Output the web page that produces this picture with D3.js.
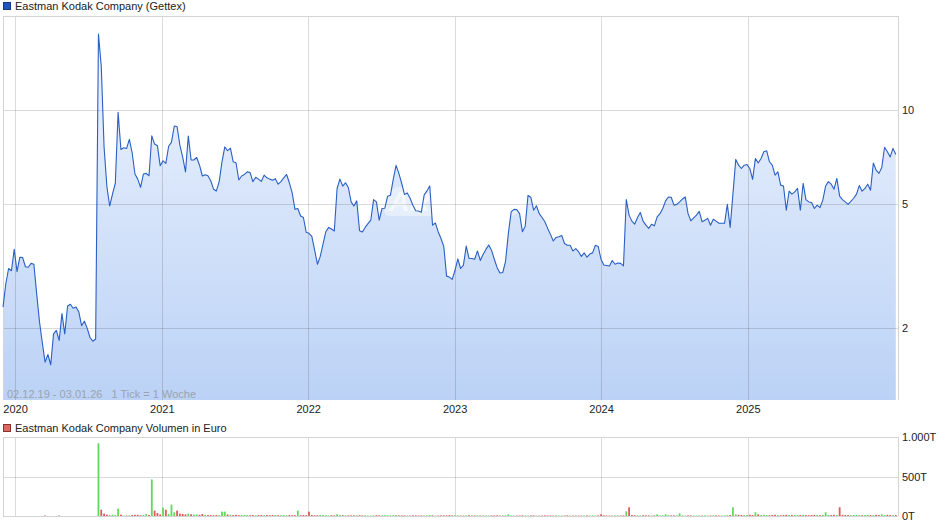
<!DOCTYPE html>
<html>
<head>
<meta charset="utf-8">
<script src="https://cdn.jsdelivr.net/npm/d3@7"></script>
<style>
    body { margin: 0; background: #fff; }
    svg { display: block; font-family: "Liberation Sans", Arial, sans-serif; }
</style>
</head>
<body>
<div id="chart"></div>
<script>
// weekly closes, Gettex, EUR
const firstWeek = "2019-12-02",
    lastWeek = "2026-01-03";

const prices = [
    2.34, 2.78, 3.11, 3.06, 3.58, 3.04, 3.38, 3.37, 3.15, 3.14, 3.23, 3.21, 2.58, 2.10, 1.80, 1.56, 1.65, 1.53, 1.92, 1.97,
    1.83, 2.23, 1.92, 2.36, 2.39, 2.32, 2.34, 2.26, 2.04, 2.11, 2.00, 1.87, 1.82, 1.85, 17.5, 13.8, 7.62, 5.70, 4.93, 5.38,
    5.83, 9.83, 7.48, 7.57, 7.53, 8.06, 7.30, 6.24, 6.01, 5.66, 6.24, 6.27, 6.16, 8.27, 7.78, 7.69, 6.63, 6.88, 6.75, 7.66,
    7.88, 8.89, 8.84, 7.72, 7.07, 6.34, 8.25, 6.92, 6.92, 7.05, 6.66, 6.15, 6.21, 6.16, 5.94, 5.58, 5.51, 5.90, 6.83, 7.62,
    7.41, 7.55, 6.83, 6.78, 5.97, 6.15, 6.22, 6.34, 6.31, 5.90, 6.09, 6.01, 5.91, 6.19, 6.07, 6.01, 5.96, 6.03, 5.79, 5.90,
    6.07, 6.22, 5.85, 5.43, 4.81, 4.84, 4.58, 4.53, 4.06, 4.03, 3.94, 3.56, 3.21, 3.40, 3.73, 4.08, 4.21, 4.16, 4.10, 5.61,
    6.01, 5.71, 5.85, 5.65, 5.08, 4.93, 5.12, 4.11, 4.07, 4.21, 4.33, 4.44, 5.17, 5.08, 4.44, 4.84, 4.85, 5.30, 5.34, 6.00,
    6.65, 6.27, 5.83, 5.37, 5.43, 5.22, 4.96, 4.76, 4.75, 4.71, 5.34, 5.51, 5.71, 4.28, 4.35, 4.08, 3.88, 3.66, 2.94, 2.92,
    2.87, 3.07, 3.34, 3.11, 3.19, 3.67, 3.35, 3.35, 3.33, 3.54, 3.30, 3.45, 3.58, 3.70, 3.56, 3.33, 3.13, 3.01, 3.02, 3.28,
    4.03, 4.72, 4.81, 4.80, 4.66, 4.08, 4.25, 5.33, 5.26, 4.78, 4.94, 4.66, 4.53, 4.39, 4.18, 4.00, 3.81, 3.91, 3.93, 3.97,
    3.74, 3.69, 3.69, 3.54, 3.60, 3.52, 3.40, 3.49, 3.38, 3.46, 3.49, 3.69, 3.66, 3.33, 3.19, 3.18, 3.17, 3.30, 3.21, 3.24,
    3.23, 3.17, 5.17, 4.61, 4.41, 4.31, 4.53, 4.70, 4.41, 4.28, 4.18, 4.31, 4.26, 4.55, 4.66, 4.84, 5.12, 5.27, 5.26, 4.96,
    4.99, 5.08, 5.19, 5.27, 4.66, 4.42, 4.52, 4.61, 4.74, 4.39, 4.44, 4.50, 4.28, 4.47, 4.41, 4.34, 4.34, 4.34, 4.99, 4.21,
    5.40, 6.95, 6.66, 6.50, 6.66, 6.69, 6.50, 6.00, 7.00, 6.77, 7.00, 7.35, 7.41, 6.83, 6.66, 6.19, 6.34, 5.75, 5.71, 4.78,
    5.50, 5.38, 5.47, 5.61, 4.78, 5.83, 5.17, 5.08, 5.06, 4.84, 4.96, 4.87, 5.15, 5.71, 5.90, 5.79, 5.58, 6.04, 5.30, 5.17,
    5.08, 4.99, 5.10, 5.22, 5.38, 5.73, 5.50, 5.61, 5.79, 5.54, 6.77, 6.42, 6.27, 6.55, 7.60, 7.35, 7.08, 7.54, 7.21
];

// weekly volume in thousand euro
const volumes = [
    0, 0, 0, 0, 0, 0, 0, 0, 0, 0, 0, 0, 0, 0, 0, 6, 0, 0, 0, 0,
    6, 0, 0, 0, 0, 0, 0, 0, 0, 0, 0, 0, 0, 0, 920, 80, 30, 17, 8, 17,
    12, 93, 17, 6, 6, 8, 12, 15, 15, 10, 12, 25, 12, 462, 68, 38, 20, 106, 80, 25,
    144, 47, 68, 30, 25, 20, 30, 22, 18, 20, 15, 25, 15, 12, 12, 10, 12, 10, 55, 55,
    20, 15, 12, 15, 10, 12, 15, 12, 10, 12, 10, 12, 12, 10, 12, 10, 12, 12, 10, 10,
    12, 10, 12, 10, 10, 68, 10, 12, 10, 55, 12, 10, 10, 12, 12, 10, 8, 10, 8, 21,
    12, 10, 8, 8, 8, 8, 8, 10, 8, 8, 6, 6, 8, 10, 8, 8, 10, 8, 8, 10,
    12, 8, 8, 8, 6, 6, 8, 8, 6, 8, 6, 8, 12, 8, 6, 6, 8, 8, 8, 10,
    8, 8, 8, 6, 8, 8, 10, 8, 8, 8, 6, 8, 8, 6, 8, 8, 8, 6, 8, 8,
    21, 8, 6, 6, 6, 8, 6, 6, 8, 8, 6, 6, 6, 8, 6, 6, 6, 8, 6, 6,
    6, 8, 6, 6, 8, 6, 6, 6, 8, 6, 8, 6, 8, 21, 8, 6, 6, 8, 6, 8,
    6, 8, 59, 110, 12, 10, 8, 8, 10, 8, 8, 6, 8, 21, 8, 8, 21, 10, 8, 8,
    8, 34, 8, 6, 8, 8, 6, 6, 8, 6, 8, 6, 6, 8, 8, 6, 6, 8, 10, 12,
    110, 21, 15, 12, 10, 12, 15, 12, 47, 21, 12, 15, 12, 10, 12, 15, 12, 10, 12, 15,
    12, 12, 15, 12, 12, 15, 12, 10, 12, 15, 12, 10, 15, 47, 12, 12, 15, 12, 110, 15,
    12, 12, 10, 12, 15, 12, 10, 12, 15, 12, 12, 15, 12, 21, 12, 15, 12, 10, 12
];

const yearTicks = [2020, 2021, 2022, 2023, 2024, 2025];
const priceTicks = [2, 5, 10];
const volTicks = [0, 500, 1000];
const volTickLabels = ["0T", "500T", "1.000T"];

const width = 940,
    height = 526,
    left = 3,
    right = 898,
    priceTop = 16,
    priceBottom = 400,
    volTop = 437,
    volBottom = 516;

const parse = d3.timeParse("%Y-%m-%d");
const start = parse(firstWeek),
    end = parse(lastWeek);
// 1 Tick = 1 Woche
const weeks = prices.map((p, i) => d3.timeDay.offset(start, 7 * i));

const xScale = d3.scaleTime()
    .domain([start, end])
    .range([left, 895]);

const yScale = d3.scaleLog()
    .domain([1.18, 20])
    .range([priceBottom, priceTop]);

const vScale = d3.scaleLinear()
    .domain([0, 1000])
    .range([volBottom, volTop]);

const svg = d3.select("#chart")
    .append("svg")
    .attr("width", width)
    .attr("height", height);

const defs = svg.append("defs");
const grad = defs.append("linearGradient")
    .attr("id", "fillGrad")
    .attr("gradientUnits", "userSpaceOnUse")
    .attr("x1", 0).attr("y1", priceTop)
    .attr("x2", 0).attr("y2", priceBottom);
grad.append("stop").attr("offset", "0%").attr("stop-color", "#f1f6fe");
grad.append("stop").attr("offset", "100%").attr("stop-color", "#bbd2f6");

// ---- price panel ----
const area = d3.area()
    .x((d, i) => xScale(weeks[i]))
    .y0(priceBottom)
    .y1(d => yScale(d));

const line = d3.line()
    .x((d, i) => xScale(weeks[i]))
    .y(d => yScale(d));

svg.append("path")
    .datum(prices)
    .attr("d", area)
    .attr("fill", "url(#fillGrad)");

// watermark
const wm = svg.append("g")
    .attr("transform", "translate(455, 201)");
wm.append("rect")
    .attr("x", -68).attr("y", -14)
    .attr("width", 136).attr("height", 29)
    .attr("rx", 8)
    .attr("transform", "skewX(-18)")
    .attr("fill", "#ffffff")
    .attr("opacity", 0.4);
wm.append("text")
    .attr("text-anchor", "middle")
    .attr("y", 10)
    .attr("font-size", 28)
    .attr("font-weight", "bold")
    .attr("font-style", "italic")
    .attr("fill", "#ffffff")
    .attr("opacity", 0.6)
    .text("ARIVA.DE");

// grid
const grid = svg.append("g")
    .attr("stroke", "#000")
    .attr("stroke-opacity", 0.14)
    .attr("shape-rendering", "crispEdges");

grid.selectAll(".hgrid")
    .data(priceTicks)
    .enter()
    .append("line")
    .attr("x1", left).attr("x2", right)
    .attr("y1", d => Math.round(yScale(d)) + 0.5)
    .attr("y2", d => Math.round(yScale(d)) + 0.5);

grid.selectAll(".vgrid")
    .data(yearTicks)
    .enter()
    .append("line")
    .attr("x1", d => Math.round(xScale(new Date(d, 0, 1))) + 0.5)
    .attr("x2", d => Math.round(xScale(new Date(d, 0, 1))) + 0.5)
    .attr("y1", priceTop)
    .attr("y2", priceBottom);

// frame
svg.append("path")
    .attr("d", `M${left + 0.5},${priceBottom} V${priceTop + 0.5} H${right + 0.5} V${priceBottom}`)
    .attr("fill", "none")
    .attr("stroke", "#d4d4d4")
    .attr("shape-rendering", "crispEdges");

svg.append("path")
    .datum(prices)
    .attr("d", line)
    .attr("fill", "none")
    .attr("stroke", "#2a5fc4")
    .attr("stroke-width", 1.1)
    .attr("stroke-linejoin", "round");

svg.append("text")
    .attr("x", 7)
    .attr("y", 398)
    .attr("font-size", 11)
    .attr("fill", "#9aa3ad")
    .style("white-space", "pre")
    .text("02.12.19 - 03.01.26   1 Tick = 1 Woche");

// right axis (price)
const yAxis = d3.axisRight(yScale)
    .tickValues(priceTicks)
    .tickSize(0)
    .tickPadding(0)
    .tickFormat(d3.format("d"));

svg.append("g")
    .attr("transform", "translate(902, 0)")
    .call(yAxis)
    .call(g => g.select(".domain").remove())
    .selectAll("text")
    .attr("font-size", 11)
    .attr("font-family", "Liberation Sans, Arial, sans-serif")
    .attr("fill", "#222");

// x axis years
const xAxis = d3.axisBottom(xScale)
    .tickValues(yearTicks.map(y => new Date(y, 0, 1)))
    .tickSize(0)
    .tickPadding(0)
    .tickFormat(d3.timeFormat("%Y"));

svg.append("g")
    .attr("transform", "translate(0, " + (priceBottom + 5) + ")")
    .call(xAxis)
    .call(g => g.select(".domain").remove())
    .selectAll("text")
    .attr("font-size", 11)
    .attr("font-family", "Liberation Sans, Arial, sans-serif")
    .attr("fill", "#222");

// legends
function legend(y, color, border, label) {
    svg.append("rect")
        .attr("x", 3.5).attr("y", y - 7.5)
        .attr("width", 7).attr("height", 7)
        .attr("fill", color)
        .attr("stroke", border);
    svg.append("text")
        .attr("x", 15)
        .attr("y", y)
        .attr("font-size", 11)
        .attr("fill", "#222")
        .text(label);
}
legend(10, "#1f55c0", "#1a3a80", "Eastman Kodak Company (Gettex)");
legend(432, "#e06666", "#8a3030", "Eastman Kodak Company Volumen in Euro");

// ---- volume panel ----
const vgrid = svg.append("g")
    .attr("stroke", "#000")
    .attr("stroke-opacity", 0.14)
    .attr("shape-rendering", "crispEdges");

vgrid.selectAll(".vh")
    .data([500])
    .enter()
    .append("line")
    .attr("x1", left).attr("x2", right)
    .attr("y1", d => Math.round(vScale(d)) + 0.5)
    .attr("y2", d => Math.round(vScale(d)) + 0.5);

vgrid.selectAll(".vv")
    .data(yearTicks)
    .enter()
    .append("line")
    .attr("x1", d => Math.round(xScale(new Date(d, 0, 1))) + 0.5)
    .attr("x2", d => Math.round(xScale(new Date(d, 0, 1))) + 0.5)
    .attr("y1", volTop)
    .attr("y2", volBottom);

svg.append("path")
    .attr("d", `M${left + 0.5},${volBottom} V${volTop + 0.5} H${right + 0.5} V${volBottom}`)
    .attr("fill", "none")
    .attr("stroke", "#d4d4d4")
    .attr("shape-rendering", "crispEdges");

svg.selectAll(".vbar")
    .data(volumes)
    .enter()
    .append("rect")
    .attr("class", "vbar")
    .attr("x", (d, i) => xScale(weeks[i]) - 0.9)
    .attr("width", 1.8)
    .attr("y", d => vScale(d))
    .attr("height", d => volBottom - vScale(d))
    .attr("fill", (d, i) => (i > 0 && prices[i] < prices[i - 1]) ? "#e05a5a" : "#5fd85f");

svg.append("line")
    .attr("x1", left).attr("x2", right)
    .attr("y1", volBottom + 0.5).attr("y2", volBottom + 0.5)
    .attr("stroke", "#d4d4d4");

const vAxis = d3.axisRight(vScale)
    .tickValues(volTicks)
    .tickSize(0)
    .tickPadding(0)
    .tickFormat((d, i) => volTickLabels[i]);

svg.append("g")
    .attr("transform", "translate(902, 0)")
    .call(vAxis)
    .call(g => g.select(".domain").remove())
    .selectAll("text")
    .attr("font-size", 11)
    .attr("font-family", "Liberation Sans, Arial, sans-serif")
    .attr("fill", "#222");
</script>
</body>
</html>
